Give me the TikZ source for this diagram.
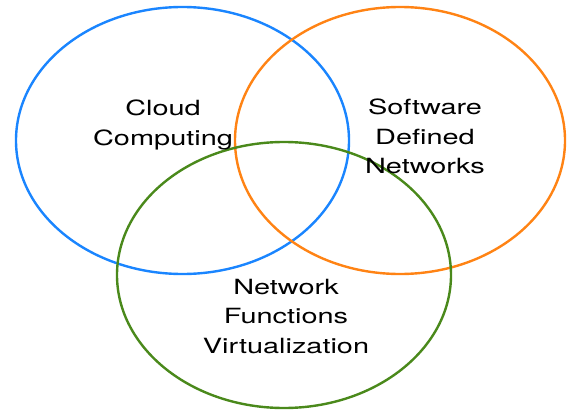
\documentclass[tikz,border=0pt]{standalone}
\usepackage{fontspec}
\setmainfont{TeX Gyre Heros}
\usetikzlibrary{positioning, calc}

\definecolor{cloudblue}{RGB}{26,133,255}
\definecolor{sdnorange}{RGB}{255,131,20}
\definecolor{nfvgreen}{RGB}{74,137,27}

\tikzset{
  ring/.style={line width=1.8pt},
  vennlabel/.style={inner sep=0pt, align=center, xscale=1.38,
    font=\fontsize{15.7}{22}\selectfont}
}

\begin{document}
\begin{tikzpicture}[x=0.75pt,y=0.75pt,yscale=-1,xscale=1]
\useasboundingbox (0,0) rectangle (567,410);

%Shape: Ellipse [cloud computing]
\draw [ring, color=cloudblue] (16,140.5) .. controls (16,66.77) and (90.54,7) .. (182.5,7) .. controls (274.46,7) and (349,66.77) .. (349,140.5) .. controls (349,214.23) and (274.46,274) .. (182.5,274) .. controls (90.54,274) and (16,214.23) .. (16,140.5) -- cycle ;
%Shape: Ellipse [software defined networks]
\draw [ring, color=sdnorange] (235,140.5) .. controls (235,66.77) and (308.87,7) .. (400,7) .. controls (491.13,7) and (565,66.77) .. (565,140.5) .. controls (565,214.23) and (491.13,274) .. (400,274) .. controls (308.87,274) and (235,214.23) .. (235,140.5) -- cycle ;
%Shape: Ellipse [network functions virtualization]
\draw [ring, color=nfvgreen] (117,275) .. controls (117,201.54) and (191.77,142) .. (284,142) .. controls (376.23,142) and (451,201.54) .. (451,275) .. controls (451,348.46) and (376.23,408) .. (284,408) .. controls (191.77,408) and (117,348.46) .. (117,275) -- cycle ;

% Text Node
\draw (163,125) node (cloud) [vennlabel] {Cloud\\Computing};
% Text Node
\draw (425,136.5) node (sdn) [vennlabel] {Software\\Defined\\Networks};
% Text Node
\draw (286,316.5) node (nfv) [vennlabel] {Network\\Functions\\Virtualization};

\end{tikzpicture}
\end{document}
